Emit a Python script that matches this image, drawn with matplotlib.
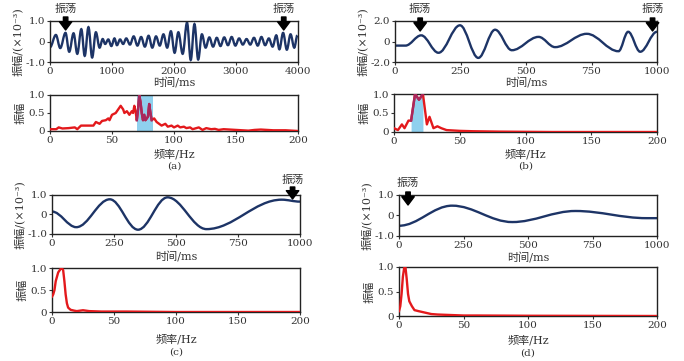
import numpy as np
import matplotlib
matplotlib.use("Agg")
import matplotlib.pyplot as plt
from matplotlib.path import Path
from matplotlib.patches import PathPatch

plt.rcParams['font.family'] = ['DejaVu Serif', 'Noto Sans CJK SC']
plt.rcParams['font.size'] = 8
plt.rcParams['axes.unicode_minus'] = False

# ---- time series: extrema (ms, amplitude) ----
a_t = [0, 95, 165, 250, 310, 380, 440, 505, 560, 620, 680, 740, 800, 850, 890,
       940, 990, 1040, 1080, 1130, 1180, 1230, 1290, 1350, 1410, 1470, 1530, 1590,
       1650, 1710, 1770, 1830, 1890, 1950, 2010, 2070, 2140, 2210, 2270, 2330, 2390,
       2450, 2510, 2570, 2630, 2690, 2750, 2810, 2870, 2930, 2990, 3050, 3110, 3170,
       3230, 3290, 3350, 3410, 3470, 3530, 3590, 3650, 3700, 3760, 3820, 3880, 3940,
       3990]
a_v = [-0.28, 0.32, -0.32, 0.42, -0.50, 0.40, -0.60, 0.60, -0.70, 0.70, -0.78, 0.45,
       -0.30, 0.12, -0.12, 0.10, -0.22, 0.15, -0.18, 0.10, -0.12, 0.15, -0.15, 0.25,
       -0.20, 0.22, -0.25, 0.28, -0.30, 0.25, -0.20, 0.35, -0.30, 0.50, -0.55, 0.45,
       -0.60, 0.92, -0.90, 0.85, -0.88, 0.35, -0.30, 0.20, -0.25, 0.18, -0.22, 0.20,
       -0.18, 0.22, -0.20, 0.15, -0.15, 0.12, -0.15, 0.18, -0.20, 0.22, -0.18, 0.15,
       -0.25, 0.30, -0.38, 0.42, -0.40, 0.35, -0.30, 0.30]

b_t = [0, 40, 100, 166, 248, 318, 382, 446, 548, 611, 732, 853, 890, 936, 1000]
b_v = [-0.40, -0.40, 0.60, -1.10, 1.58, -1.60, 1.15, -0.85, 0.45, -0.55, 0.75, -0.95,
       0.95, -1.00, 0.95]

c_t = [0, 98, 233, 347, 466, 623, 926, 1000]
c_v = [0.15, -0.65, 0.78, -0.78, 0.88, -0.75, 0.76, 0.66]

d_t = [0, 206, 439, 684, 960, 1000]
d_v = [-0.50, 0.48, -0.32, 0.22, -0.13, -0.13]

# ---- spectra (Hz, normalised amplitude) ----
fa = [0, 5, 7, 10, 15, 20, 22, 25, 30, 35, 37, 40, 42, 45, 47, 48, 50, 53, 55, 57,
      59, 60, 62, 64, 66, 67, 68, 69, 70, 71, 72, 73, 74, 75, 76, 77, 79, 80, 81, 82,
      84, 86, 88, 90, 93, 95, 98, 100, 103, 105, 108, 110, 113, 115, 118, 120, 123,
      126, 130, 133, 136, 140, 145, 150, 155, 160, 165, 170, 175, 180, 185, 190, 195,
      200]
sa = [0.05, 0.05, 0.10, 0.07, 0.08, 0.10, 0.05, 0.15, 0.15, 0.15, 0.25, 0.20, 0.28,
      0.30, 0.35, 0.30, 0.45, 0.50, 0.60, 0.70, 0.60, 0.50, 0.55, 0.45, 0.55, 0.50,
      0.70, 0.55, 0.30, 0.60, 1.00, 0.80, 0.50, 0.30, 0.45, 0.30, 0.40, 0.75, 0.50,
      0.30, 0.35, 0.25, 0.20, 0.15, 0.20, 0.12, 0.15, 0.10, 0.15, 0.10, 0.12, 0.08,
      0.10, 0.05, 0.08, 0.10, 0.03, 0.08, 0.05, 0.06, 0.03, 0.05, 0.04, 0.03, 0.02,
      0.01, 0.03, 0.04, 0.03, 0.02, 0.02, 0.02, 0.01, 0.00]
band_a = (70, 83)

fb = [0, 3, 6, 8, 11, 13, 16, 19, 22, 25, 27, 30, 33, 36, 40, 50, 60, 80, 120, 200]
sb = [0.10, 0.05, 0.20, 0.10, 0.30, 0.30, 1.00, 0.85, 1.00, 0.20, 0.40, 0.10, 0.15,
      0.10, 0.05, 0.03, 0.02, 0.01, 0.00, 0.00]
band_b = (13, 23)

fc = [0, 1, 2, 3, 5, 7, 8, 9, 10, 11, 12, 13, 15, 18, 20, 25, 30, 40, 60, 100, 200]
sc = [0.35, 0.40, 0.50, 0.70, 0.90, 0.98, 1.00, 0.95, 0.70, 0.40, 0.20, 0.10, 0.05,
      0.03, 0.02, 0.04, 0.02, 0.01, 0.01, 0.00, 0.00]

fd = [0, 1, 2, 3, 4, 5, 6, 7, 8, 10, 12, 15, 20, 25, 30, 40, 50, 60, 100, 200]
sd = [0.10, 0.20, 0.45, 0.80, 0.98, 1.00, 0.75, 0.45, 0.30, 0.20, 0.12, 0.10, 0.07,
      0.04, 0.03, 0.02, 0.01, 0.01, 0.005, 0.00]

# arrow positions (ms) for "振荡"
arrows_a = [252, 3770]
arrows_b = [96, 983]
arrows_c = [970]
arrows_d = [35]

W, H = 684, 361
navy = '#1d3466'
red = '#e3191c'
blue = '#8fd0ee'
purple = '#a8285e'
txt = '#333333'

fig = plt.figure(figsize=(W / 100, H / 100), dpi=100)


def px_axes(l, t, r, b):
    return fig.add_axes([l / W, (H - b) / H, (r - l) / W, (b - t) / H])


def smooth_line(ax, xs, ys, k=0.36):
    verts = [(xs[0], ys[0])]
    codes = [Path.MOVETO]
    for i in range(len(xs) - 1):
        dx = xs[i + 1] - xs[i]
        verts += [(xs[i] + k * dx, ys[i]), (xs[i + 1] - k * dx, ys[i + 1]), (xs[i + 1], ys[i + 1])]
        codes += [Path.CURVE4] * 3
    ax.add_patch(PathPatch(Path(verts, codes), fill=False, edgecolor=navy, lw=1.7))


def style(ax, xlim, xticks, ylim, yticks, ylabels):
    ax.set_xlim(*xlim)
    ax.set_ylim(*ylim)
    ax.set_xticks(xticks)
    ax.set_xticklabels([str(x) for x in xticks])
    ax.set_yticks(yticks)
    ax.set_yticklabels(ylabels)
    ax.tick_params(direction='out', length=2.5, width=0.8, pad=1, labelsize=7.5, colors=txt)
    for s in ax.spines.values():
        s.set_linewidth(1.0)
        s.set_color('#222222')


def arrows(ax, xs, tip_px, top_px, text_px, box):
    l, t, r, b = box
    y0, y1 = ax.get_ylim()

    def to_y(p):
        return y1 - (p - t) / (b - t) * (y1 - y0)
    for x in xs:
        ax.annotate('', xy=(x, to_y(tip_px)), xytext=(x, to_y(top_px)),
                    arrowprops=dict(width=3.2, headwidth=9, headlength=6, color='black', shrink=0),
                    annotation_clip=False)
        ax.text(x, to_y(text_px), '振荡', ha='center', va='center', fontsize=8, color=txt)


def time_panel(box, xs, ys, xlim, xticks, ylim, yticks, ylabels, arr, tip, top, ttxt, xlab_y):
    ax = px_axes(*box)
    smooth_line(ax, xs, ys)
    style(ax, xlim, xticks, ylim, yticks, ylabels)
    ax.set_ylabel('振幅/(×10⁻³)', fontsize=8, labelpad=2, color=txt)
    arrows(ax, arr, tip, top, ttxt, box)
    fig.text((box[0] + box[2]) / 2 / W, 1 - xlab_y / H, '时间/ms', ha='center', va='center',
             fontsize=8, color=txt)
    return ax


def spec_panel(box, f, s, band, xlab_y, cap_y, cap):
    ax = px_axes(*box)
    f = np.array(f)
    s = np.array(s)
    ax.plot(f, s, color=red, lw=1.7, zorder=3)
    if band is not None:
        m = (f >= band[0]) & (f <= band[1])
        if cap == '(a)':
            ax.axvspan(band[0], band[1], color=blue, lw=0, zorder=1)
        else:
            ax.fill_between(f[m], 0, s[m], color=blue, lw=0, zorder=1)
        ax.plot(f[m], s[m], color=purple, lw=1.7, zorder=4)
    style(ax, (0, 200), [0, 50, 100, 150, 200], (0, 1.0), [0, 0.5, 1.0], ['0', '0.5', '1.0'])
    ax.set_ylabel('振幅', fontsize=8, labelpad=2, color=txt)
    cx = (box[0] + box[2]) / 2 / W
    fig.text(cx, 1 - xlab_y / H, '频率/Hz', ha='center', va='center', fontsize=8, color=txt)
    fig.text(cx, 1 - cap_y / H, cap, ha='center', va='center', fontsize=7.5, color=txt)
    return ax


box_at = (50, 21, 298, 62)
box_ab = (50, 95, 298, 131)
box_bt = (395, 21, 657, 62)
box_bb = (394, 94, 657, 132)
box_ct = (52, 195, 300, 234)
box_cb = (52, 268, 300, 312)
box_dt = (399, 195, 657, 236)
box_db = (399, 267, 657, 316)

time_panel(box_at, a_t, a_v, (0, 4000), [0, 1000, 2000, 3000, 4000], (-1, 1), [-1, 0, 1],
           ['-1.0', '0', '1.0'], arrows_a, 30, 17, 9, 82)
spec_panel(box_ab, fa, sa, band_a, 154, 166, '(a)')

time_panel(box_bt, b_t, b_v, (0, 1000), [0, 250, 500, 750, 1000], (-2, 2), [-2, 0, 2],
           ['-2.0', '0', '2.0'], arrows_b, 31, 18, 9, 82)
spec_panel(box_bb, fb, sb, band_b, 154, 166, '(b)')

time_panel(box_ct, c_t, c_v, (0, 1000), [0, 250, 500, 750, 1000], (-1, 1), [-1, 0, 1],
           ['-1.0', '0', '1.0'], arrows_c, 199, 187, 180, 256)
spec_panel(box_cb, fc, sc, None, 339, 352, '(c)')

time_panel(box_dt, d_t, d_v, (0, 1000), [0, 250, 500, 750, 1000], (-1, 1), [-1, 0, 1],
           ['-1.0', '0', '1.0'], arrows_d, 205, 192, 183, 257)
spec_panel(box_db, fd, sd, None, 340, 353, '(d)')

fig.savefig('out.png', dpi=100)
